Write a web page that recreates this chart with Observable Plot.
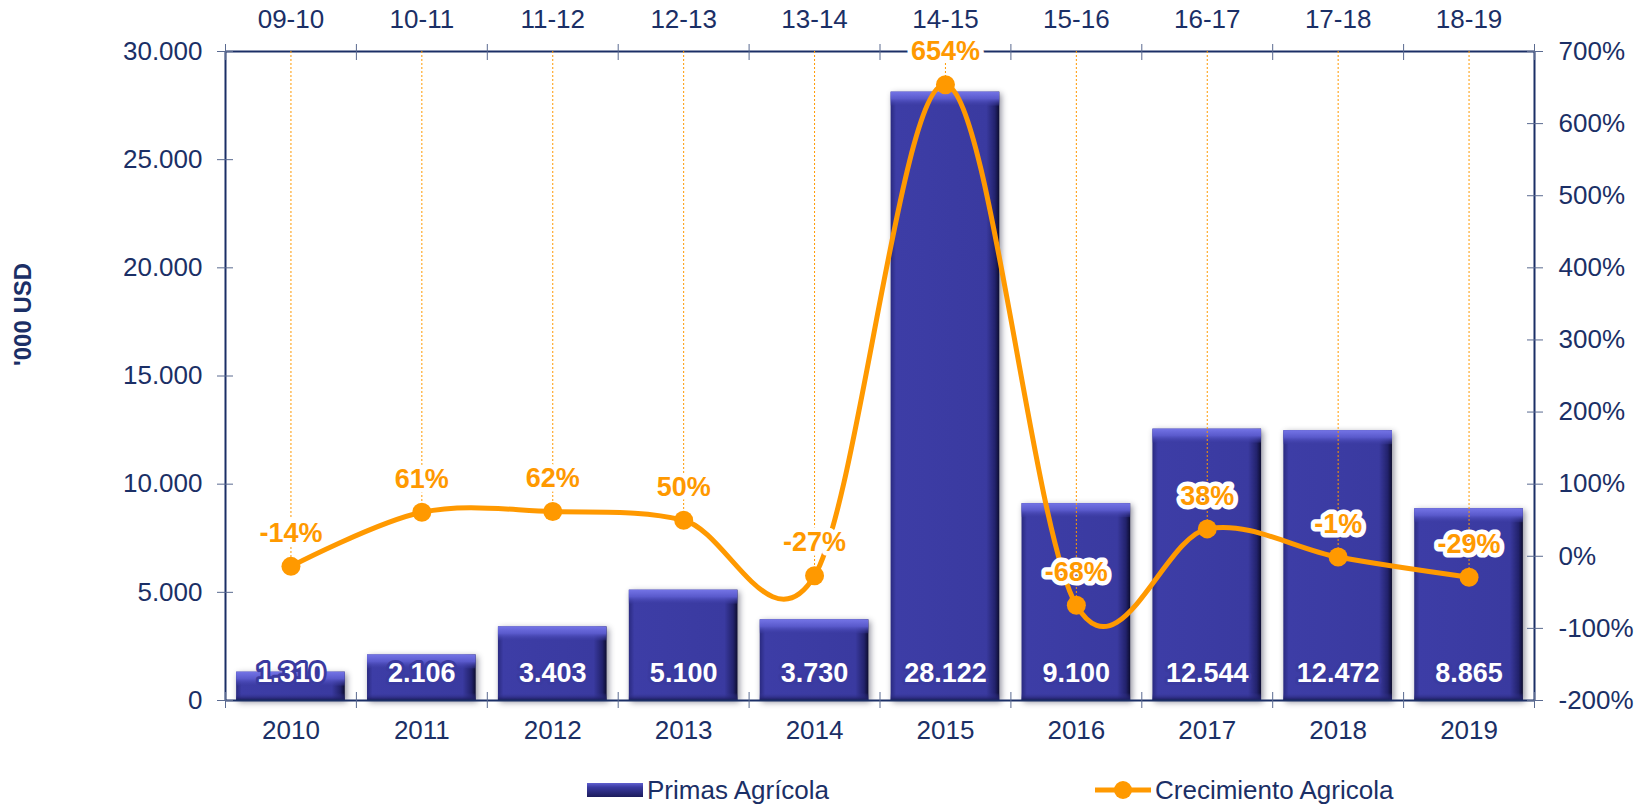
<!DOCTYPE html>
<html>
<head>
<meta charset="utf-8">
<script src="https://cdn.jsdelivr.net/npm/d3@7"></script>
<script src="https://cdn.jsdelivr.net/npm/@observablehq/plot@0.6"></script>
<style>
  html, body { margin: 0; padding: 0; background: #fff; }
  #wrap { position: relative; width: 1649px; height: 806px; font-family: "Liberation Sans", Arial, sans-serif; }
  .bars { filter: drop-shadow(2px 2px 3px rgba(0,0,30,0.45)); }
  #legend { position: absolute; left: 0; top: 770px; width: 1649px; height: 36px; }
  .lg { position: absolute; top: 5px; height: 30px; display: flex; align-items: center; color: #1b2f66; font-size: 26px; }
  .lg span.t { display: inline-block; white-space: nowrap; }
</style>
</head>
<body>
<div id="wrap"><div id="chart"></div><div id="legend"></div></div>
<script>
// ---- data ----
const years = [2010, 2011, 2012, 2013, 2014, 2015, 2016, 2017, 2018, 2019];
const seasons = ["09-10", "10-11", "11-12", "12-13", "13-14", "14-15", "15-16", "16-17", "17-18", "18-19"];
const primas = [1310, 2106, 3403, 5100, 3730, 28122, 9100, 12544, 12472, 8865];
const crecimiento = [-14, 61, 62, 50, -27, 654, -68, 38, -1, -29];
const leftTicks = [0, 5000, 10000, 15000, 20000, 25000, 30000];
const rightTicks = [-200, -100, 0, 100, 200, 300, 400, 500, 600, 700];
const seriesNames = ["Primas Agrícola", "Crecimiento Agricola"];

// ---- layout ----
const W = 1649, H = 770;
const mT = 51, mB = 70, mL = 225, mR = 115;
const plotH = H - mT - mB;
const yMax = 30000, pMin = -200, pMax = 700;
const pctToY = p => (p - pMin) / (pMax - pMin) * yMax;
const yToPct = v => v / yMax * (pMax - pMin) + pMin;
const unitsPerPx = yMax / plotH;
const halfBar = 0.415;

const navy = "#1b2f66";
const tickCol = "#5a6a90";
const orange = "#ff9900";

const data = years.map((y, i) => ({year: y, season: seasons[i], primas: primas[i], crec: crecimiento[i]}));
const bounds = d3.range(years[0] - 0.5, years[years.length - 1] + 1, 1);

const fmtK = d3.formatLocale({decimal: ",", thousands: ".", grouping: [3], currency: ["", ""]}).format(",");

const plot = Plot.plot({
  width: W, height: H,
  marginTop: mT, marginBottom: mB, marginLeft: mL, marginRight: mR,
  style: {fontFamily: "'Liberation Sans', Arial, sans-serif", fontSize: "26px", color: navy, background: "#fff"},
  x: {type: "linear", domain: [years[0] - 0.5, years[years.length - 1] + 0.5], label: null},
  y: {domain: [0, yMax], label: null},
  marks: [
    // bars
    Plot.rectY(data, {x1: d => d.year - halfBar, x2: d => d.year + halfBar, y: "primas", fill: "url(#barH)", className: "bars"}),
    Plot.rectY(data, {x1: d => d.year - halfBar, x2: d => d.year + halfBar, y1: d => d.primas - 14 * unitsPerPx, y2: "primas", fill: "url(#barTop)"}),
    Plot.rectY(data, {x1: d => d.year - halfBar, x2: d => d.year + halfBar, y1: 0, y2: d => 7 * unitsPerPx, fill: "url(#barBot)"}),
    // axis lines
    Plot.ruleY([0, yMax], {stroke: navy, strokeWidth: 2}),
    Plot.ruleX([bounds[0], bounds[bounds.length - 1]], {stroke: navy, strokeWidth: 2}),
    // left axis
    Plot.axisY({anchor: "left", ticks: leftTicks, tickSize: 0, tickPadding: 23, tickFormat: fmtK, label: null}),
    Plot.axisY({anchor: "left", ticks: leftTicks, tickSize: 16, dx: 8, tickFormat: () => "", stroke: tickCol, label: null}),
    // right axis
    Plot.axisY({anchor: "right", ticks: rightTicks.map(pctToY), tickSize: 0, tickPadding: 24, tickFormat: v => Math.round(yToPct(v)) + "%", label: null}),
    Plot.axisY({anchor: "right", ticks: rightTicks.map(pctToY), tickSize: 16, dx: -8, tickFormat: () => "", stroke: tickCol, label: null}),
    // top axis
    Plot.axisX({anchor: "top", ticks: years, tickSize: 0, tickPadding: 24, tickFormat: d => seasons[years.indexOf(d)], label: null}),
    Plot.axisX({anchor: "top", ticks: bounds, tickSize: 16, dy: 8, tickFormat: () => "", stroke: tickCol, label: null}),
    // bottom axis
    Plot.axisX({anchor: "bottom", ticks: years, tickSize: 0, tickPadding: 20, tickFormat: d => String(d), label: null}),
    Plot.axisX({anchor: "bottom", ticks: bounds, tickSize: 16, dy: -8, tickFormat: () => "", stroke: tickCol, label: null}),
    // y title
    Plot.text(["'000 USD"], {frameAnchor: "left", dx: -202, dy: -10, rotate: -90, fontWeight: "bold", fontSize: 24, fill: navy}),
    // bar value labels
    Plot.text(data, {x: "year", y: 0, dy: -27, text: d => fmtK(d.primas), fill: "#fff", fontWeight: "bold", fontSize: 27, stroke: "#3a3aa0", strokeWidth: 6, paintOrder: "stroke"}),
    // dotted guide rules
    Plot.ruleX(data, {x: "year", y1: yMax, y2: d => pctToY(d.crec), stroke: orange, strokeWidth: 1, strokeDasharray: "2,2"}),
    // growth line
    Plot.line(data, {x: "year", y: d => pctToY(d.crec), stroke: orange, strokeWidth: 5, curve: "cardinal", tension: 0}),
    Plot.dot(data, {x: "year", y: d => pctToY(d.crec), r: 9.5, fill: orange, stroke: "none"}),
    // growth labels
    Plot.text(data, {x: "year", y: d => pctToY(d.crec), dy: -33, text: d => d.crec + "%", fill: orange, fontWeight: "bold", fontSize: 27, stroke: "#fff", strokeWidth: 9, strokeLinejoin: "round", paintOrder: "stroke"})
  ]
});

d3.select(plot).insert("defs", ":first-child").html(`
  <linearGradient id="barH" x1="0" x2="1" y1="0" y2="0">
    <stop offset="0" stop-color="#2a2a80"/>
    <stop offset="0.05" stop-color="#3d3da6"/>
    <stop offset="0.88" stop-color="#3a3aa0"/>
    <stop offset="0.96" stop-color="#22226c"/>
    <stop offset="1" stop-color="#0d0d30"/>
  </linearGradient>
  <linearGradient id="barTop" x1="0" x2="0" y1="0" y2="1">
    <stop offset="0" stop-color="#7474e6"/>
    <stop offset="0.5" stop-color="#5a5acc"/>
    <stop offset="1" stop-color="#3b3ba2" stop-opacity="0.3"/>
  </linearGradient>
  <linearGradient id="barBot" x1="0" x2="0" y1="0" y2="1">
    <stop offset="0" stop-color="#3a3aa0" stop-opacity="0"/>
    <stop offset="1" stop-color="#1c1c5c"/>
  </linearGradient>
`);

document.getElementById("chart").appendChild(plot);

// legend
const lg = document.getElementById("legend");
lg.innerHTML = `
  <div class="lg" style="left:587px">
    <svg width="56" height="14"><defs><linearGradient id="lgB" x1="0" x2="0" y1="0" y2="1"><stop offset="0" stop-color="#6060d0"/><stop offset="0.3" stop-color="#3a3aa0"/><stop offset="1" stop-color="#1c1c5c"/></linearGradient></defs><rect width="56" height="14" fill="url(#lgB)"/></svg>
    <span class="t" style="margin-left:4px">${seriesNames[0]}</span>
  </div>
  <div class="lg" style="left:1095px">
    <svg width="56" height="20"><line x1="0" x2="56" y1="10" y2="10" stroke="${orange}" stroke-width="5"/><circle cx="28" cy="10" r="9" fill="${orange}"/></svg>
    <span class="t" style="margin-left:4px">${seriesNames[1]}</span>
  </div>`;
</script>
</body>
</html>
